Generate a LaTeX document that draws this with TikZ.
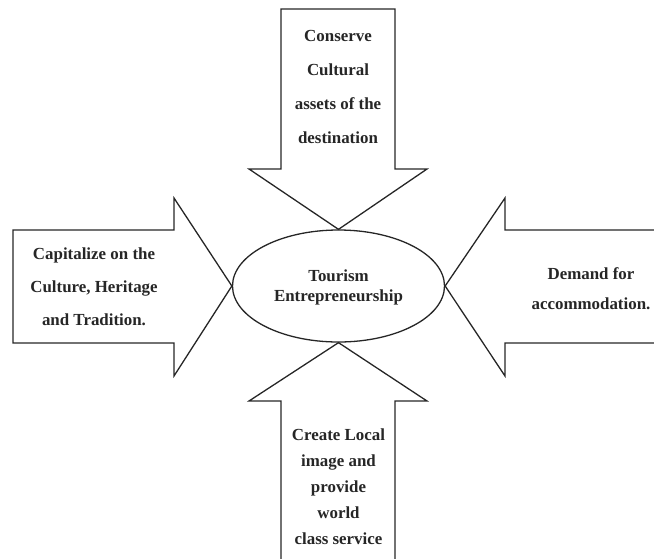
\documentclass[tikz,border=0pt]{standalone}
\usepackage{fontspec}
\setmainfont{Liberation Serif}
\usetikzlibrary{shapes.geometric}
\begin{document}
\begin{tikzpicture}[x=1pt,y=-1pt,
  arrowshape/.style={draw=black!85,line width=1.3pt,line join=miter},
  lbl/.style={align=center,inner sep=0pt,text=black!85},
  txt/.style n args={1}{font={\fontsize{16.9}{#1}\selectfont\bfseries}}]
\useasboundingbox (0,0) rectangle (654,558);
\node[ellipse,draw=black!85,line width=1.3pt,minimum width=212pt,minimum height=112pt,inner sep=0pt] (E) at (338.5,286) {};
\node[lbl,txt=20] (center) at (338.5,287) {Tourism\\Entrepreneurship};
% top arrow
\draw[arrowshape] (E.north) -- (249,169) -- (281,169) -- (281,9) -- (395,9) -- (395,169) -- (427,169) -- cycle;
\node[lbl,txt=34] (toptext) at (338,87) {Conserve\\Cultural\\assets of the\\destination};
% left arrow
\draw[arrowshape] (E.west) -- (174,376) -- (174,343) -- (13,343) -- (13,230) -- (174,230) -- (174,198) -- cycle;
\node[lbl,txt=33] (lefttext) at (94,287) {Capitalize on the\\Culture, Heritage\\and Tradition.};
% right arrow
\draw[arrowshape] (658,230) -- (505,230) -- (505,198) -- (E.east) -- (505,376) -- (505,343) -- (658,343);
\node[lbl,txt=30] (righttext) at (591,289) {Demand for\\accommodation.};
% bottom arrow
\draw[arrowshape] (281,562) -- (281,401) -- (249,401) -- (E.south) -- (427,401) -- (395,401) -- (395,562);
\node[lbl,txt=26] (bottomtext) at (338.5,487) {Create Local\\image and\\provide\\world\\class service};
\end{tikzpicture}
\end{document}
